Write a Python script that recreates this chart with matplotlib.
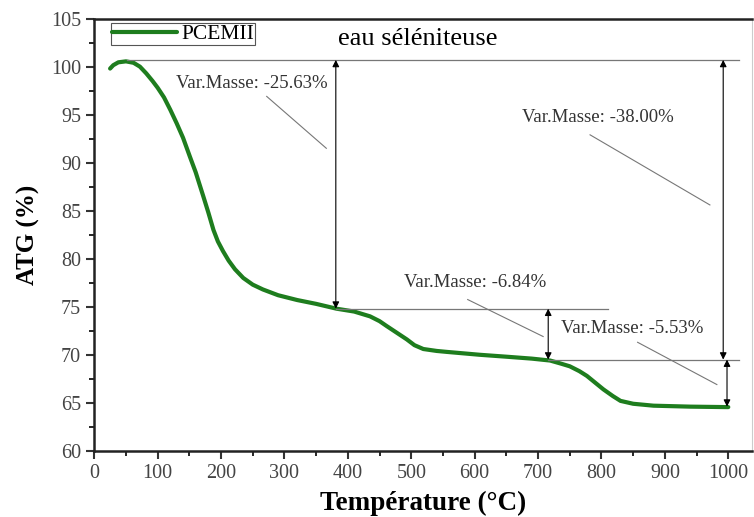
import matplotlib
matplotlib.use('Agg')
import matplotlib.pyplot as plt
from matplotlib.ticker import MultipleLocator

plt.rcParams['font.family'] = ['Liberation Serif', 'DejaVu Serif']

# ATG curve
temp = [25, 30, 38, 50, 62, 72, 82, 92, 100, 110, 120, 130, 140, 151, 160, 172,
        180, 188, 195, 203, 212, 222, 235, 250, 266, 290, 320, 350, 382, 410,
        435, 450, 461, 477, 493, 505, 519, 540, 556, 608, 650, 690, 719, 735,
        750, 765, 777, 790, 803, 818, 830, 850, 882, 940, 1000]
masse = [99.8, 100.15, 100.45, 100.55, 100.4, 100.0, 99.3, 98.5, 97.8, 96.8,
         95.5, 94.1, 92.6, 90.6, 89.0, 86.5, 84.8, 83.0, 81.8, 80.8, 79.8, 78.9,
         78.0, 77.3, 76.8, 76.2, 75.7, 75.3, 74.8, 74.5, 74.0, 73.5, 73.0, 72.3,
         71.6, 71.0, 70.6, 70.4, 70.3, 70.0, 69.8, 69.6, 69.4, 69.1, 68.8, 68.3,
         67.8, 67.1, 66.4, 65.7, 65.2, 64.9, 64.7, 64.6, 64.55]

# mass-loss steps: (x of arrow, top level, bottom level)
paliers = [(381, 100.7, 74.8), (716, 74.8, 69.5), (992, 100.7, 69.5), (998, 69.5, 64.6)]
# reference levels: (level, x start, x end)
niveaux = [(100.7, 51, 1017), (74.8, 381, 810), (69.5, 716, 1017)]
# labels: text, text position, leader line start, leader line end
etiquettes = [
    ('Var.Masse: -25.63%', (249, 98.2), (272, 96.9), (366, 91.5)),
    ('Var.Masse: -38.00%', (795, 94.7), (782, 92.9), (971, 85.6)),
    ('Var.Masse: -6.84%', (600, 77.5), (589, 75.75), (708, 71.9)),
    ('Var.Masse: -5.53%', (848, 72.7), (857, 71.3), (982, 66.9)),
]

fig = plt.figure(figsize=(7.54, 5.17), dpi=100)
ax = fig.add_axes([0.125, 0.128, 0.872, 0.836])

ax.plot(temp, masse, color='#1e7d1e', lw=3, label='PCEMII', solid_capstyle='round')

for lev, x0, x1 in niveaux:
    ax.plot([x0, x1], [lev, lev], color='#777777', lw=0.9)

for x, top, bot in paliers:
    ax.annotate('', xy=(x, bot), xytext=(x, top),
                arrowprops=dict(arrowstyle='<|-|>', color='black', lw=0.8,
                                mutation_scale=10, shrinkA=0, shrinkB=0))

for txt, pos, p0, p1 in etiquettes:
    ax.text(pos[0], pos[1], txt, ha='center', va='center', fontsize=13.5, color='#333333')
    ax.plot([p0[0], p1[0]], [p0[1], p1[1]], color='#777777', lw=0.8)

ax.text(511, 102.9, 'eau séléniteuse', ha='center', va='center', fontsize=19)

ax.set_xlim(0, 1037)
ax.set_ylim(60, 105)
ax.xaxis.set_major_locator(MultipleLocator(100))
ax.xaxis.set_minor_locator(MultipleLocator(50))
ax.yaxis.set_major_locator(MultipleLocator(5))
ax.yaxis.set_minor_locator(MultipleLocator(2.5))
ax.set_xticks(range(0, 1001, 100))
ax.tick_params(which='major', direction='out', length=6, width=1.5, labelsize=14.5, colors='#333333')
ax.tick_params(which='minor', direction='out', length=3.5, width=1.2)
ax.tick_params(axis='both', labelcolor='#444444')

for s in ['left', 'bottom', 'top']:
    ax.spines[s].set_linewidth(1.8)
    ax.spines[s].set_color('#222222')
ax.spines['right'].set_color('#cccccc')
ax.spines['right'].set_linewidth(0.8)

ax.set_xlabel('Température (°C)', fontsize=19.5, fontweight='bold', labelpad=6)
ax.set_ylabel('ATG (%)', fontsize=18, fontweight='bold', labelpad=8)

leg = ax.legend(loc='upper left', bbox_to_anchor=(0.026, 0.99), borderaxespad=0,
                fontsize=15.5, handlelength=3.0, borderpad=0.05, handletextpad=0.2,
                fancybox=False, framealpha=1)
leg.get_frame().set_edgecolor('#555555')
leg.get_frame().set_linewidth(0.8)

fig.savefig('out.png', dpi=100)
